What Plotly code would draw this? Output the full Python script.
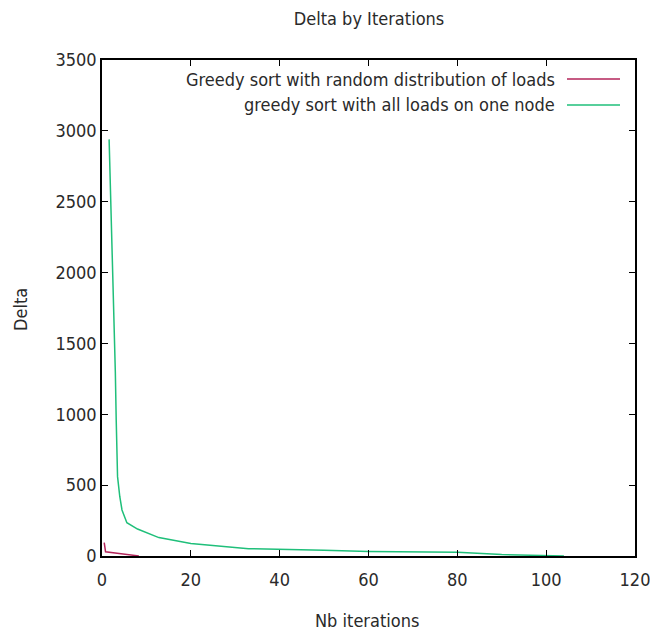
import plotly.graph_objects as go

# Data
green_x = [1.6, 2.0, 2.5, 3.0, 3.2, 3.5, 4.0, 4.5, 5.6, 8.0, 12.8, 20, 33, 40, 50, 60, 80, 90, 100, 104]
green_y = [2940, 2500, 1980, 1300, 960, 560, 420, 325, 235, 190, 130, 88, 52, 45, 40, 32, 26, 10, 5, 0]
red_x = [0.5, 0.8, 3.4, 5.0, 8.3]
red_y = [95, 30, 20, 12, 0]

series_names = ["Greedy sort with random distribution of loads",
                "greedy sort with all loads on one node"]
red_color = "#b3245a"
green_color = "#1fbf7a"

FONT = "DejaVu Sans Condensed, Liberation Sans Narrow, Liberation Sans, sans-serif"
FS = 18
TXT = "#2a2a2a"

fig = go.Figure()
fig.add_trace(go.Scatter(x=red_x, y=red_y, mode="lines", name=series_names[0],
                         line=dict(color=red_color, width=1.5), showlegend=False))
fig.add_trace(go.Scatter(x=green_x, y=green_y, mode="lines", name=series_names[1],
                         line=dict(color=green_color, width=1.5), showlegend=False))

# gnuplot-style legend: right-aligned text with line sample to the right
legend_rows = [(series_names[0], red_color, 79), (series_names[1], green_color, 105)]
for name, col, ypix in legend_rows:
    yp = 1 - (ypix - 60) / 496
    fig.add_annotation(text=name, xref="paper", yref="paper", x=(557 - 102) / 533, y=yp,
                       xanchor="right", yanchor="middle", showarrow=False,
                       font=dict(family=FONT, size=FS, color=TXT))
    fig.add_shape(type="line", xref="paper", yref="paper",
                  x0=(567 - 102) / 533, x1=(620 - 102) / 533, y0=yp, y1=yp,
                  line=dict(color=col, width=1.5))

# axis titles
fig.add_annotation(text="Delta", xref="paper", yref="paper", x=(20 - 102) / 533,
                   y=1 - (310 - 60) / 496, textangle=-90, showarrow=False,
                   xanchor="center", yanchor="middle",
                   font=dict(family=FONT, size=FS, color=TXT))
fig.add_annotation(text="Nb iterations", xref="paper", yref="paper", x=(367 - 102) / 533,
                   y=1 - (620 - 60) / 496, showarrow=False,
                   xanchor="center", yanchor="middle",
                   font=dict(family=FONT, size=FS, color=TXT))

fig.update_layout(
    width=650, height=634,
    margin=dict(l=102, r=15, t=60, b=78, autoexpand=False),
    paper_bgcolor="white", plot_bgcolor="white",
    title=dict(text="Delta by Iterations", x=369 / 650, xanchor="center",
               y=1 - 19 / 634, yanchor="middle", yref="container",
               font=dict(family=FONT, size=FS, color=TXT)),
    font=dict(family=FONT, size=FS, color=TXT),
)
fig.update_xaxes(range=[0, 120], tickvals=[0, 20, 40, 60, 80, 100, 120],
                 showline=True, linecolor="black", ticklabeloverflow="allow",
                 automargin=False, ticklabelstandoff=7,
                 linewidth=1.5, mirror="allticks", ticks="inside", ticklen=6,
                 tickcolor="black", showgrid=False, zeroline=False,
                 tickfont=dict(family=FONT, size=FS, color=TXT))
fig.update_yaxes(range=[0, 3500], dtick=500, tick0=0, showline=True, linecolor="black",
                 automargin=False,
                 linewidth=1.5, mirror="allticks", ticks="inside", ticklen=6,
                 tickcolor="black", showgrid=False, zeroline=False,
                 tickfont=dict(family=FONT, size=FS, color=TXT))

fig.write_html("out.html")
